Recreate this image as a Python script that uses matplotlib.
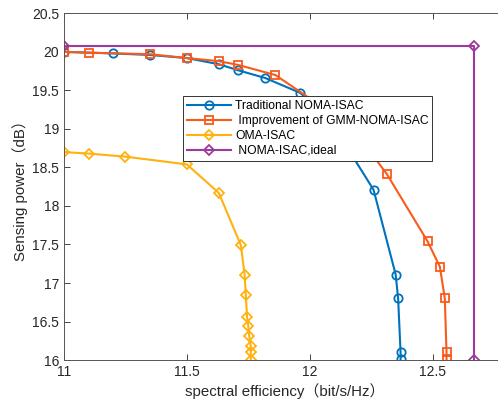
import matplotlib
matplotlib.use("Agg")
import matplotlib.pyplot as plt

plt.rcParams["font.family"] = ["Liberation Sans", "Noto Sans CJK SC"]
plt.rcParams["font.size"] = 9

# Traditional NOMA-ISAC (one point hidden behind the legend)
trad_x = [11.0, 11.2, 11.35, 11.5, 11.63, 11.71, 11.82, 11.96, 12.07, 12.26, 12.35, 12.36, 12.37, 12.37]
trad_y = [20.0, 19.98, 19.96, 19.92, 19.84, 19.76, 19.66, 19.47, 19.18, 18.21, 17.11, 16.80, 16.10, 16.01]

# Improvement of GMM-NOMA-ISAC
gmm_x = [11.0, 11.1, 11.35, 11.5, 11.63, 11.71, 11.86, 12.17, 12.315, 12.48, 12.53, 12.55, 12.557, 12.557]
gmm_y = [20.0, 19.99, 19.97, 19.92, 19.88, 19.83, 19.70, 19.03, 18.41, 17.54, 17.21, 16.80, 16.10, 16.01]

# OMA-ISAC
oma_x = [11.0, 11.1, 11.25, 11.5, 11.63, 11.72, 11.735, 11.74, 11.745, 11.75, 11.754, 11.76, 11.76, 11.76]
oma_y = [18.70, 18.68, 18.64, 18.54, 18.17, 17.49, 17.11, 16.85, 16.56, 16.44, 16.31, 16.18, 16.10, 16.0]

# NOMA-ISAC, ideal
ideal_x = [11.0, 12.67, 12.67]
ideal_y = [20.08, 20.08, 16.0]

fig = plt.figure(figsize=(4.98, 4.05), dpi=100)
ax = fig.add_axes([0.1285, 0.111, 0.888, 0.856])

style = dict(lw=1.5, ms=6, mfc="none", mew=1.3)
ax.plot(trad_x, trad_y, "-o", color="#0072BD", label="Traditional NOMA-ISAC", **style)
ax.plot(gmm_x, gmm_y, "-s", color="#FA5A1A", label=" Improvement of GMM-NOMA-ISAC", **style)
ax.plot(oma_x, oma_y, "-D", color="#FFB10F", label="OMA-ISAC", lw=1.5, ms=5.5, mfc="none", mew=1.3)
ax.plot(ideal_x, ideal_y, "-D", color="#9C3A9E", label=" NOMA-ISAC,ideal", lw=1.5, ms=5.5, mfc="none", mew=1.3)

ax.set_xlim(11, 12.8)
ax.set_ylim(16, 20.5)
ax.set_xticks([11, 11.5, 12, 12.5])
ax.set_xticklabels(["11", "11.5", "12", "12.5"])
ax.set_yticks([16, 16.5, 17, 17.5, 18, 18.5, 19, 19.5, 20, 20.5])
ax.set_yticklabels(["16", "16.5", "17", "17.5", "18", "18.5", "19", "19.5", "20", "20.5"])
ax.tick_params(direction="in", top=True, right=True, colors="#262626", labelsize=10, length=4, width=0.6)
for sp in ax.spines.values():
    sp.set_color("#555555")
    sp.set_linewidth(0.7)

ax.set_xlabel("spectral efficiency（bit/s/Hz）", fontsize=10.8, color="#262626", labelpad=3)
ax.set_ylabel("Sensing power（dB）", fontsize=10.8, color="#262626", labelpad=3)

leg = ax.legend(loc="upper left", bbox_to_anchor=(0.269, 0.761), fancybox=False,
                framealpha=1, edgecolor="#333333", handlelength=3.7, borderpad=0.3,
                labelspacing=0.25, handletextpad=0.3, fontsize=8.7, borderaxespad=0)
leg.get_frame().set_linewidth(0.7)

fig.savefig("out.png", dpi=100)
